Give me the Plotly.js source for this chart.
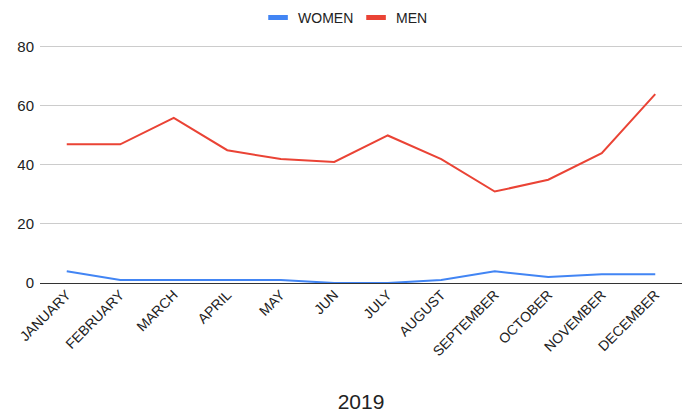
<!DOCTYPE html>
<html>
<head>
<meta charset="utf-8">
<script src="https://cdn.plot.ly/plotly-3.0.1.min.js"></script>
<style>html,body{margin:0;padding:0;background:#fff;}#chart{width:690px;height:416px;}</style>
</head>
<body>
<div id="chart"></div>
<script>
const months = ["JANUARY","FEBRUARY","MARCH","APRIL","MAY","JUN","JULY","AUGUST","SEPTEMBER","OCTOBER","NOVEMBER","DECEMBER"];
const women = [4,1,1,1,1,0,0,1,4,2,3,3];
const men = [47,47,56,45,42,41,50,42,31,35,44,64];
const yTicks = [0,20,40,60,80];
const seriesNames = ["WOMEN","MEN"];
const seriesColors = ["#4285F4","#EA4335"];

const traces = [
  {x: months, y: women, name: seriesNames[0], type: "scatter", mode: "lines", line: {color: seriesColors[0], width: 2}, showlegend: false},
  {x: months, y: men, name: seriesNames[1], type: "scatter", mode: "lines", line: {color: seriesColors[1], width: 2}, showlegend: false}
];
// legend-only entries with short thick bars
seriesNames.forEach((n, i) => {
  traces.push({x: [null], y: [null], name: n, type: "scatter", mode: "markers",
    marker: {symbol: "line-ew-open", size: 14, color: seriesColors[i], line: {color: seriesColors[i], width: 5}},
    showlegend: true, hoverinfo: "skip"});
});

const layout = {
  width: 690, height: 416,
  margin: {l: 40, r: 8, t: 44, b: 133},
  paper_bgcolor: "#fff", plot_bgcolor: "#fff",
  font: {family: "Arial, 'Liberation Sans', sans-serif", size: 14, color: "#222"},
  showlegend: true,
  legend: {orientation: "h", xref: "container", x: 0.516, xanchor: "center", yref: "container", y: 0.957, yanchor: "middle",
    font: {size: 14, color: "#222"}, itemsizing: "trace", itemwidth: 30, entrywidth: 53, entrywidthmode: "pixels"},
  xaxis: {
    type: "category", tickangle: -45, showgrid: false, ticks: "", showline: false,
    tickfont: {size: 14, color: "#222"},
    title: {text: "2019", font: {size: 21, color: "#222"}, standoff: 36},
    range: [-0.5, 11.5], automargin: false
  },
  yaxis: {
    range: [0, 81], tickvals: yTicks, showgrid: true, gridcolor: "#cccccc", gridwidth: 1,
    zeroline: true, zerolinecolor: "#333", zerolinewidth: 1,
    ticks: "", tickfont: {size: 15, color: "#222"}, ticklabelstandoff: 5, automargin: false
  }
};
Plotly.newPlot("chart", traces, layout, {displayModeBar: false, staticPlot: true});
</script>
</body>
</html>
